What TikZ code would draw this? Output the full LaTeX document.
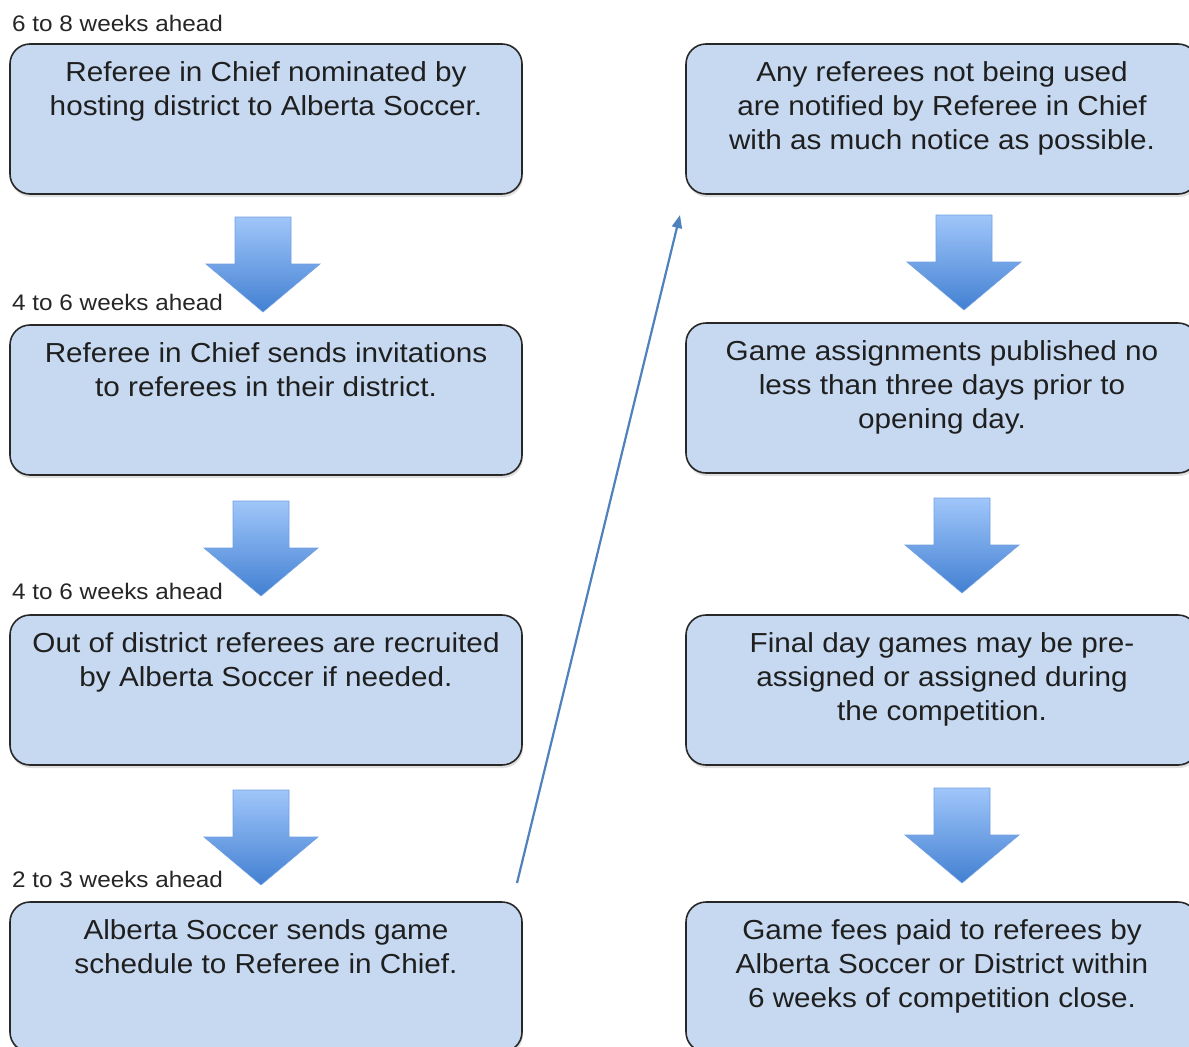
\documentclass[tikz,border=0pt]{standalone}
\usepackage{fontspec}
\setmainfont{Liberation Sans}[FakeStretch=1.08]
\usetikzlibrary{positioning,arrows.meta,shadows}

\definecolor{boxblue}{RGB}{198,217,241}
\definecolor{boxline}{RGB}{40,40,40}
\definecolor{arrowtop}{RGB}{160,198,250}
\definecolor{arrowbot}{RGB}{66,128,210}
\definecolor{arrowedge}{RGB}{115,160,225}
\definecolor{linkblue}{RGB}{79,129,189}

\tikzset{
	stepbox/.style={draw=boxline, line width=1.6pt, fill=boxblue, rounded corners=20pt,
		minimum width=512pt, minimum height=150pt, inner sep=0pt,
		drop shadow={shadow xshift=1pt, shadow yshift=-3pt, opacity=0.25}},
	steptext/.style={inner sep=0pt, align=center, text=black!88,
		font=\fontsize{27.5}{34}\selectfont},
	weeks/.style={anchor=base west, inner sep=0pt, text=black!85,
		font=\fontsize{22.5}{26}\selectfont},
	fatarrow/.style={draw=arrowedge, line width=0.6pt, top color=arrowtop, bottom color=arrowbot}
}

\begin{document}
\begin{tikzpicture}[x=1pt, y=-1pt]
	\useasboundingbox (0,0) rectangle (1189,1047);
	\clip (0,0) rectangle (1189,1047);
	\fill[white] (0,0) rectangle (1189,1047);

	% left column
	\node[weeks] (w1) at (12,31.5) {6 to 8 weeks ahead};
	\node[stepbox] (l1) at (266,119) {};
	\node[steptext, below=18pt of l1.north] (l1t) {Referee in Chief nominated by\\hosting district to Alberta Soccer.};
	\node[weeks] (w2) at (12,310) {4 to 6 weeks ahead};
	\node[stepbox] (l2) at (266,400) {};
	\node[steptext, below=18pt of l2.north] (l2t) {Referee in Chief sends invitations\\to referees in their district.};
	\node[weeks] (w3) at (12,599) {4 to 6 weeks ahead};
	\node[stepbox] (l3) at (266,690) {};
	\node[steptext, below=18pt of l3.north] (l3t) {Out of district referees are recruited\\by Alberta Soccer if needed.};
	\node[weeks] (w4) at (12,887) {2 to 3 weeks ahead};
	\node[stepbox] (l4) at (266,977) {};
	\node[steptext, below=18pt of l4.north] (l4t) {Alberta Soccer sends game\\schedule to Referee in Chief.};

	% right column
	\node[stepbox] (r1) at (942,119) {};
	\node[steptext, below=18pt of r1.north] (r1t) {Any referees not being used\\are notified by Referee in Chief\\with as much notice as possible.};
	\node[stepbox] (r2) at (942,398) {};
	\node[steptext, below=18pt of r2.north] (r2t) {Game assignments published no\\less than three days prior to\\opening day.};
	\node[stepbox] (r3) at (942,690) {};
	\node[steptext, below=18pt of r3.north] (r3t) {Final day games may be pre-\\assigned or assigned during\\the competition.};
	\node[stepbox] (r4) at (942,977) {};
	\node[steptext, below=18pt of r4.north] (r4t) {Game fees paid to referees by\\Alberta Soccer or District within\\6 weeks of competition close.};

	% block arrows
	\foreach \cx/\ty in {263/217, 261/501, 261/790, 964/215, 962/498, 962/788}
		\draw[fatarrow] (\cx-28,\ty) -- (\cx+28,\ty) -- (\cx+28,\ty+47) -- (\cx+57,\ty+47)
			-- (\cx,\ty+95) -- (\cx-57,\ty+47) -- (\cx-28,\ty+47) -- cycle;

	% jump to second column
	\coordinate (jumpfrom) at (517,883);
	\coordinate (jumpto) at (680,215);
	\draw[linkblue, line width=2.2pt, -{Triangle[length=13pt,width=10pt]}] (jumpfrom) -- (jumpto);
\end{tikzpicture}
\end{document}
